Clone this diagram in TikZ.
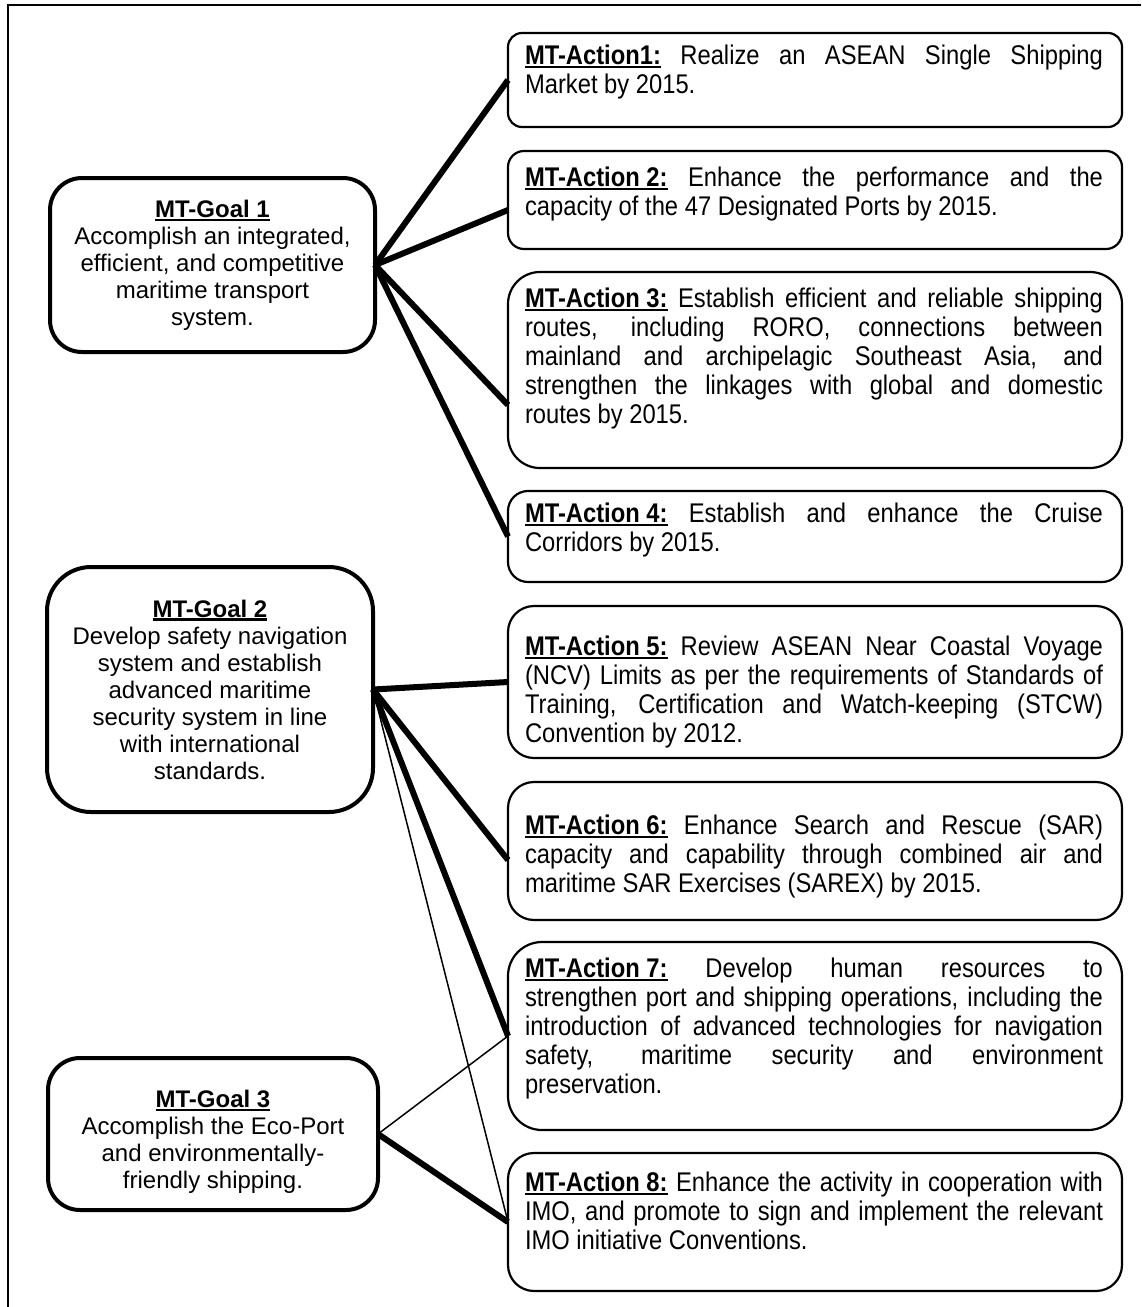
\documentclass[tikz,border=0pt]{standalone}
\usepackage{fontspec}
\setmainfont{Liberation Sans}
\newfontfamily\actfont[FakeStretch=0.88]{Liberation Sans}
\usetikzlibrary{calc}
\newlength\aw
\setlength\aw{578pt}
\newcommand\ulb[1]{\setbox0\hbox{\textbf{#1}}\rlap{\rule[-3.5pt]{\wd0}{2.2pt}}\box0\relax}
\newcommand\jl[1]{\makebox[\aw][s]{#1}}
\tikzset{
  goalbox/.style={draw, line width=4pt, align=center, inner sep=0pt, outer sep=0pt,
    font=\fontsize{24}{27}\selectfont},
  actbox/.style={draw, line width=2.2pt, inner sep=0pt, outer sep=0pt, minimum width=614pt},
  acttext/.style={anchor=north west, inner sep=0pt, outer sep=0pt, align=left,
    font=\actfont\fontsize{27}{29}\selectfont},
  conn/.style={line width=6pt},
  thinconn/.style={line width=1.5pt},
  frame/.style={line width=2.2pt}
}
\begin{document}
\begin{tikzpicture}[x=1pt,y=-1pt]
\useasboundingbox (0,0) rectangle (1141,1307);
\draw[frame] (8,1307) -- (8,5) -- (1141,5);

% goal boxes
\node[goalbox, rounded corners=32pt, minimum width=325pt, minimum height=174pt] (g1) at (212.5,265)
  {\ulb{MT-Goal 1}\\Accomplish an integrated,\\efficient, and competitive\\maritime transport\\system.};
\node[goalbox, rounded corners=44pt, minimum width=326pt, minimum height=245pt] (g2) at (210,689.5)
  {\ulb{MT-Goal 2}\\Develop safety navigation\\system and establish\\advanced maritime\\security system in line\\with international\\standards.};
\node[goalbox, rounded corners=32pt, minimum width=330pt, minimum height=152pt] (g3) at (213,1134)
  {\rule{0pt}{33pt}\ulb{MT-Goal 3}\\Accomplish the Eco-Port\\and environmentally-\\friendly shipping.};

% action boxes
\node[actbox, rounded corners=14pt, minimum height=94pt] (a1) at (815,80) {};
\node[actbox, rounded corners=16pt, minimum height=98pt] (a2) at (815,200) {};
\node[actbox, rounded corners=32pt, minimum height=196pt] (a3) at (815,370) {};
\node[actbox, rounded corners=20pt, minimum height=91pt] (a4) at (815,536.5) {};
\node[actbox, rounded corners=26pt, minimum height=152pt] (a5) at (815,682) {};
\node[actbox, rounded corners=26pt, minimum height=138pt] (a6) at (815,851) {};
\node[actbox, rounded corners=34pt, minimum height=188pt] (a7) at (815,1036) {};
\node[actbox, rounded corners=26pt, minimum height=138pt] (a8) at (815,1222) {};

% action texts
\node[acttext] (t1) at (525,45)
  {\jl{\ulb{MT-Action1:} Realize an ASEAN Single Shipping}\\Market by 2015.};
\node[acttext] (t2) at (525,167)
  {\jl{\ulb{MT-Action 2:} Enhance the performance and the}\\capacity of the 47 Designated Ports by 2015.};
\node[acttext] (t3) at (525,288)
  {\jl{\ulb{MT-Action 3:} Establish efficient and reliable shipping}\\
   \jl{routes, including RORO, connections between}\\
   \jl{mainland and archipelagic Southeast Asia, and}\\
   \jl{strengthen the linkages with global and domestic}\\
   routes by 2015.};
\node[acttext] (t4) at (525,503)
  {\jl{\ulb{MT-Action 4:} Establish and enhance the Cruise}\\Corridors by 2015.};
\node[acttext] (t5) at (525,636)
  {\jl{\ulb{MT-Action 5:} Review ASEAN Near Coastal Voyage}\\
   \jl{(NCV) Limits as per the requirements of Standards of}\\
   \jl{Training, Certification and Watch-keeping (STCW)}\\
   Convention by 2012.};
\node[acttext] (t6) at (525,815)
  {\jl{\ulb{MT-Action 6:} Enhance Search and Rescue (SAR)}\\
   \jl{capacity and capability through combined air and}\\
   maritime SAR Exercises (SAREX) by 2015.};
\node[acttext] (t7) at (525,958)
  {\jl{\ulb{MT-Action 7:} Develop human resources to}\\
   \jl{strengthen port and shipping operations, including the}\\
   \jl{introduction of advanced technologies for navigation}\\
   \jl{safety, maritime security and environment}\\
   preservation.};
\node[acttext] (t8) at (525,1172)
  {\jl{\ulb{MT-Action 8:} Enhance the activity in cooperation with}\\
   \jl{IMO, and promote to sign and implement the relevant}\\
   IMO initiative Conventions.};

% connectors
\draw[conn] (g1.east) -- (a1.west);
\draw[conn] (g1.east) -- ($(a2.west)+(0,10)$);
\draw[conn] (g1.east) -- ($(a3.west)+(0,35)$);
\draw[conn] (g1.east) -- (a4.west);
\draw[conn] (g2.east) -- (a5.west);
\draw[conn] (g2.east) -- ($(a6.west)+(0,9)$);
\draw[conn] (g2.east) -- (a7.west);
\draw[thinconn] (g2.east) -- (a8.west);
\draw[thinconn] (g3.east) -- (a7.west);
\draw[conn] (g3.east) -- (a8.west);
\end{tikzpicture}
\end{document}
